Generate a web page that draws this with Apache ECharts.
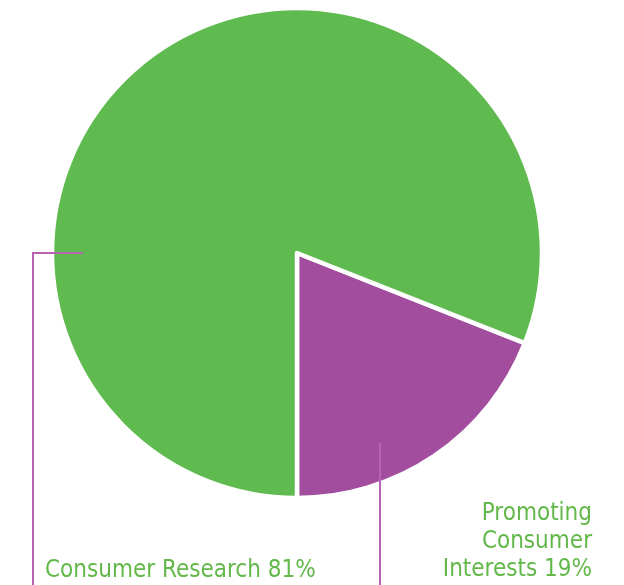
<!DOCTYPE html>
<html>
<head>
<meta charset="utf-8">
<script src="https://cdn.jsdelivr.net/npm/echarts@6/dist/echarts.min.js"></script>
<style>
html,body{margin:0;padding:0;background:#fff;}
#chart{width:624px;height:585px;}
</style>
</head>
<body>
<div id="chart"></div>
<script>
const categories = ['Promoting Consumer Interests', 'Consumer Research'];
const labelTexts = ['Promoting\nConsumer\nInterests 19%', 'Consumer Research 81%'];
const values = [19, 81];
const colors = ['#a24d9e', '#5fba4f'];

const cx = 297, cy = 253, R = 245;
const chart = echarts.init(document.getElementById('chart'), null, {renderer: 'canvas'});
const baseSeries = {
  type: 'pie',
  center: [cx, cy],
  radius: [0, R],
  startAngle: -21.6,
  clockwise: true,
  silent: true
};
chart.setOption({
  animation: false,
  backgroundColor: '#ffffff',
  series: [
    Object.assign({}, baseSeries, {
      z: 1,
      data: categories.map((c, i) => ({name: c, value: values[i], itemStyle: {color: colors[i]}})),
      itemStyle: {borderColor: '#ffffff', borderWidth: 4.5},
      label: {show: false},
      labelLine: {show: false}
    }),
    Object.assign({}, baseSeries, {
      z: 5,
      data: categories.map((c, i) => ({
        name: c, value: values[i],
        label: {formatter: labelTexts[i]}
      })),
      itemStyle: {color: 'rgba(0,0,0,0)', borderWidth: 0},
      label: {
        show: true,
        position: 'outside',
        overflow: 'none',
        color: '#63b84a',
        fontFamily: 'DejaVu Sans Condensed',
        fontSize: 24,
        lineHeight: 28
      },
      labelLine: {
        show: true,
        lineStyle: {color: '#b864b4', width: 2}
      },
      labelLayout: function (p) {
        if (p.dataIndex === 1) {
          return {
            x: 45, y: 571, align: 'left', verticalAlign: 'middle',
            labelLinePoints: [[cx - 214, cy], [33, cy], [33, 600]]
          };
        } else {
          return {
            x: 592, y: 542, align: 'right', verticalAlign: 'middle',
            labelLinePoints: [[cx + 83, cy + 190], [cx + 83, 520], [cx + 83, 600]]
          };
        }
      }
    })
  ]
});
</script>
</body>
</html>
